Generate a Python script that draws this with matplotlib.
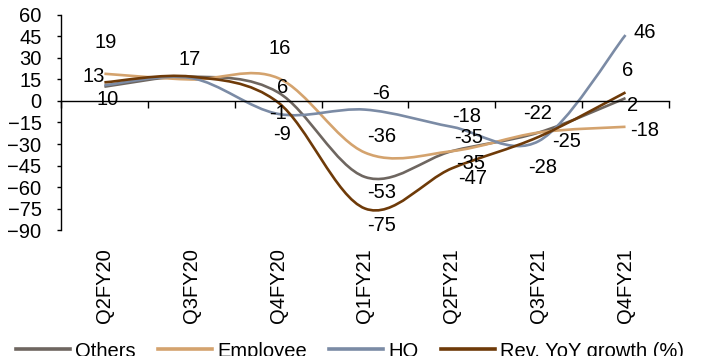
import numpy as np
import matplotlib.pyplot as plt
from matplotlib.path import Path
from matplotlib.patches import PathPatch
from matplotlib.lines import Line2D

plt.rcParams['font.family'] = ['Liberation Sans', 'DejaVu Sans']
plt.rcParams['font.size'] = 14.5

quarters = ['Q2FY20', 'Q3FY20', 'Q4FY20', 'Q1FY21', 'Q2FY21', 'Q3FY21', 'Q4FY21']

others = [10, 17, 6, -53, -35, -22, 2]
employee = [19, 15, 16, -36, -35, -22, -18]
ho = [11, 16, -9, -6, -18, -28, 46]
rev_growth = [13, 17, -1, -75, -47, -25, 6]

series = [
    ('Others', others, '#6e6660'),
    ('Employee', employee, '#d4a36e'),
    ('HO', ho, '#7b8ba5'),
    ('Rev. YoY growth (%)', rev_growth, '#6e3a08'),
]

# which points carry a value label, and where the label sits (pixels from the point)
label_offsets = {
    'Others': {0: (3, 13), 1: (-2, -17), 2: (5, -5), 3: (17, 16), 4: (19, 12), 5: (-1, -19), 6: (7, 7)},
    'Employee': {0: (1, -31), 2: (2, -30), 3: (17, -16), 4: (17, -14), 6: (19, 4)},
    'HO': {2: (4, 21), 3: (16, -16), 4: (15, -10), 5: (4, 26), 6: (19, -3)},
    'Rev. YoY growth (%)': {0: (-11, -6), 2: (0, 11), 3: (17, 17), 4: (21, 10), 5: (28, 5), 6: (2, -22)},
}


def smooth_path(xs, ys):
    # cubic bezier through every point, like a spreadsheet "smoothed line"
    pts = np.column_stack([xs, ys]).astype(float)
    n = len(pts)
    verts = [pts[0]]
    codes = [Path.MOVETO]
    for i in range(n - 1):
        p0 = pts[max(i - 1, 0)]
        p1 = pts[i]
        p2 = pts[i + 1]
        p3 = pts[min(i + 2, n - 1)]
        c1 = p1 + (p2 - p0) / 6
        c2 = p2 - (p3 - p1) / 6
        verts += [c1, c2, p2]
        codes += [Path.CURVE4] * 3
    return Path(verts, codes)


fig = plt.figure(figsize=(7.04, 3.56), dpi=100)
ax = fig.add_axes([0.0866, 0.3539, 0.8636, 0.604])

x = np.arange(len(quarters))
for name, vals, color in series:
    patch = PathPatch(smooth_path(x, vals), facecolor='none', edgecolor=color,
                      lw=1.9, capstyle='butt', clip_on=False)
    ax.add_patch(patch)
    for i, (dx, dy) in label_offsets[name].items():
        ax.annotate(str(vals[i]), xy=(x[i], vals[i]), xytext=(dx, -dy),
                    textcoords='offset pixels', ha='center', va='center')

ax.set_xlim(-0.5, len(quarters) - 0.5)
ax.set_ylim(-90, 60)
ax.set_yticks(np.arange(-90, 61, 15))

ax.spines['top'].set_visible(False)
ax.spines['right'].set_visible(False)
ax.spines['bottom'].set_position(('data', 0))
ax.spines['left'].set_linewidth(1)
ax.spines['bottom'].set_linewidth(1)

ax.set_xticks(np.arange(-0.5, len(quarters), 1))
ax.set_xticklabels([])
ax.tick_params(axis='x', direction='out', length=5, width=1)
ax.tick_params(axis='y', direction='out', length=3, width=1, pad=11)

for i, q in enumerate(quarters):
    ax.annotate(q, xy=(i, 0), xycoords=('data', 'axes fraction'), xytext=(0, -18),
                textcoords='offset pixels', rotation=90, ha='center', va='top')

handles = [Line2D([], [], color=c, lw=2.6) for _, _, c in series]
fig.legend(handles, [s[0] for s in series], loc='center', bbox_to_anchor=(0.497, 0.014),
           ncol=4, frameon=False, handlelength=2.7, handletextpad=0.25,
           columnspacing=1.1, borderpad=0)

fig.savefig('out.png', dpi=100)
